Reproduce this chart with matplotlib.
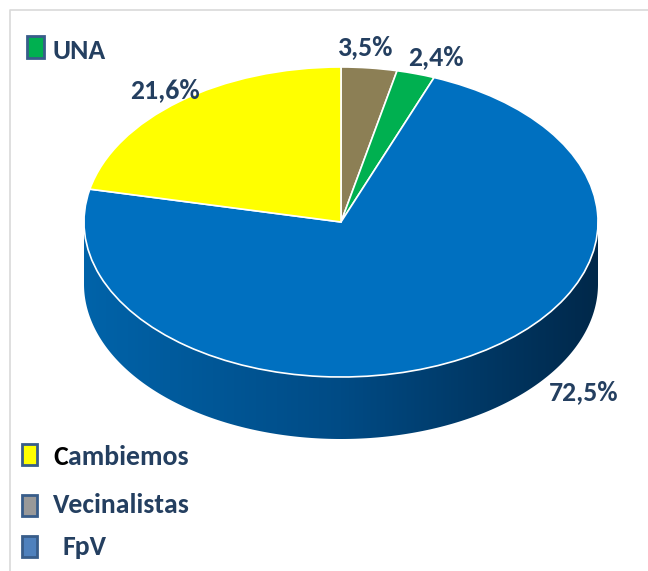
import numpy as np
import matplotlib
matplotlib.use("Agg")
import matplotlib.pyplot as plt
from matplotlib.patches import Polygon, Rectangle

# Datos del gráfico (orden horario desde las 12)
partidos = ["Vecinalistas", "UNA", "FpV", "Cambiemos"]
porcentajes = [3.5, 2.4, 72.5, 21.6]
colores = ["#8C7F55", "#00B050", "#0070C0", "#FFFF00"]

# Leyenda
leyenda = ["UNA", "Cambiemos", "Vecinalistas", "FpV"]
leyenda_colores = ["#00B050", "#FFFF00", "#999999", "#4F81BD"]

W, H = 648, 571
cx, cy, rx, ry, prof = 341, 222, 257, 155, 62

fig = plt.figure(figsize=(W / 100, H / 100), dpi=100)
ax = fig.add_axes([0, 0, 1, 1])
ax.pie(porcentajes, colors=colores, startangle=90, counterclock=False,
       wedgeprops=dict(edgecolor="white", linewidth=1.2))
ax.set_aspect("auto")
ax.axis("off")

# lateral del cilindro (gradiente)
d = prof / ry
t = np.linspace(np.pi, 2 * np.pi, 300)
xs = np.cos(t)
ys = np.sin(t)
pts = np.vstack([np.column_stack([xs, ys]), np.column_stack([xs[::-1], ys[::-1] - d])])
lado = Polygon(pts, closed=True, facecolor="none", edgecolor="none")
ax.add_patch(lado)
grad = np.linspace(0, 1, 256).reshape(1, -1)
cmap = matplotlib.colors.LinearSegmentedColormap.from_list(
    "lado", ["#0063A9", "#004B85", "#00284A"])
im = ax.imshow(grad, cmap=cmap, aspect="auto", extent=[-1, 1, -1 - d, 0], zorder=0)
im.set_clip_path(lado)
ax.set_xlim((0 - cx) / rx, (W - cx) / rx)
ax.set_ylim((cy - H) / ry, (cy - 0) / ry)

# capa de textos en pixeles
ov = fig.add_axes([0, 0, 1, 1])
ov.set_xlim(0, W)
ov.set_ylim(H, 0)
ov.axis("off")
ov.patch.set_alpha(0)

navy = "#243F60"
fam = ["Carlito", "Liberation Sans Narrow", "Liberation Sans", "DejaVu Sans"]

# marco
ov.plot([10, 10, W], [H, 10, 10], color="#D9D9D9", lw=1.2)

# etiquetas de porcentaje
pos_etiq = {"Vecinalistas": (366, 47), "UNA": (436, 57), "FpV": (584, 392), "Cambiemos": (165, 90)}
for p, v in zip(partidos, porcentajes):
    x, y = pos_etiq[p]
    ov.text(x, y, f"{v:.1f}%".replace(".", ","), ha="center", va="center",
            fontsize=20, fontweight="bold", color=navy, family=fam)

# leyenda
cajas = {"UNA": (27, 36, 17, 22), "Cambiemos": (22, 444, 15, 21),
         "Vecinalistas": (22, 495, 15, 21), "FpV": (22, 536, 15, 21)}
textos = {"UNA": (53, 51), "Cambiemos": (53, 457), "Vecinalistas": (53, 505), "FpV": (63, 547)}
for nombre, col in zip(leyenda, leyenda_colores):
    x, y, w, h = cajas[nombre]
    ov.add_patch(Rectangle((x, y), w, h, facecolor=col, edgecolor="#385D8A", lw=2))
    tx, ty = textos[nombre]
    if nombre == "Cambiemos":
        c = ov.text(tx, ty, "C", ha="left", va="center", fontsize=20,
                    fontweight="bold", color="black", family=fam)
        ov.annotate("ambiemos", xy=(1, 0.5), xycoords=c, ha="left", va="center",
                    fontsize=20, fontweight="bold", color=navy, family=fam)
    else:
        ov.text(tx, ty, nombre, ha="left", va="center", fontsize=20,
                fontweight="bold", color=navy, family=fam)

fig.savefig("out.png", dpi=100)
